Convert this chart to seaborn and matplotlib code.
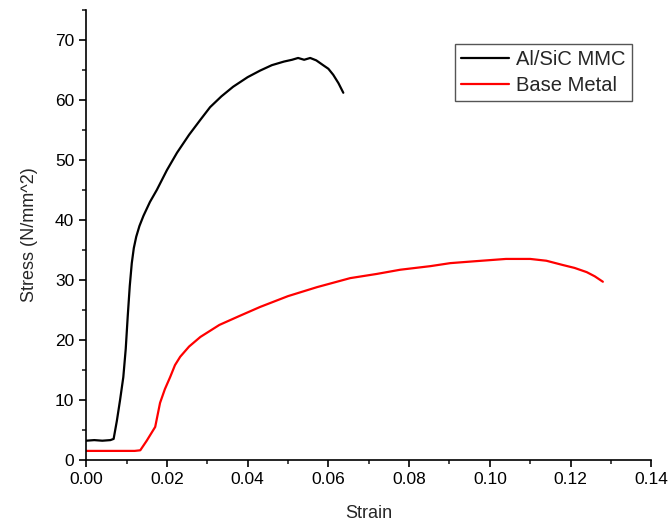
import matplotlib
matplotlib.use("Agg")
import matplotlib.pyplot as plt
import seaborn as sns
import pandas as pd
from matplotlib.ticker import MultipleLocator

# Al/SiC MMC curve
mmc_strain = [0.0, 0.002, 0.004, 0.0060, 0.0068, 0.0076, 0.0084, 0.0092, 0.0098, 0.0103,
              0.0108, 0.0113, 0.0118, 0.0124, 0.0132, 0.0142, 0.0158, 0.0175, 0.0200, 0.0225, 0.0255,
              0.0283, 0.0307, 0.0335, 0.0364, 0.0400, 0.0431, 0.0460, 0.0490, 0.0510,
              0.0525, 0.0540, 0.0555, 0.0570, 0.0587, 0.0600, 0.0612, 0.0625, 0.0637]
mmc_stress = [3.2, 3.3, 3.2, 3.3, 3.5, 6.5, 10.0, 13.8, 18.5, 24.0,
              29.0, 32.8, 35.3, 37.2, 39.0, 40.7, 43.0, 45.0, 48.3, 51.2, 54.2,
              56.7, 58.8, 60.6, 62.2, 63.8, 64.9, 65.8, 66.4, 66.7,
              67.0, 66.7, 67.0, 66.6, 65.8, 65.2, 64.2, 62.8, 61.2]

# Base Metal curve
base_strain = [0.0, 0.004, 0.008, 0.0120, 0.0134, 0.0150, 0.0171, 0.0183, 0.0195, 0.0208,
               0.0220, 0.0233, 0.0255, 0.0283, 0.0330, 0.0380, 0.0431, 0.0500, 0.0572,
               0.0654, 0.0720, 0.0778, 0.0853, 0.0902, 0.0960, 0.1000, 0.1040, 0.1100,
               0.1140, 0.1180, 0.1210, 0.1240, 0.1260, 0.1280]
base_stress = [1.5, 1.5, 1.5, 1.5, 1.6, 3.2, 5.5, 9.5, 11.8, 13.8,
               15.8, 17.2, 18.9, 20.5, 22.5, 24.0, 25.5, 27.3, 28.8,
               30.3, 31.0, 31.7, 32.3, 32.8, 33.1, 33.3, 33.5, 33.5,
               33.2, 32.5, 32.0, 31.3, 30.6, 29.7]

df = pd.concat([
    pd.DataFrame({"Strain": mmc_strain, "Stress": mmc_stress, "Material": "Al/SiC MMC"}),
    pd.DataFrame({"Strain": base_strain, "Stress": base_stress, "Material": "Base Metal"}),
])

sns.set_style("ticks")
plt.rcParams['font.family'] = ['Liberation Sans', 'DejaVu Sans']

fig = plt.figure(figsize=(6.68, 5.25), dpi=100)
ax = fig.add_axes([0.129, 0.124, 0.846, 0.857])

sns.lineplot(data=df, x="Strain", y="Stress", hue="Material", sort=False,
             palette={"Al/SiC MMC": "black", "Base Metal": "red"},
             linewidth=1.6, ax=ax, estimator=None)

ax.set_xlim(0, 0.14)
ax.set_ylim(0, 75)
ax.xaxis.set_major_locator(MultipleLocator(0.02))
ax.xaxis.set_minor_locator(MultipleLocator(0.01))
ax.yaxis.set_major_locator(MultipleLocator(10))
ax.yaxis.set_minor_locator(MultipleLocator(5))
ax.set_xticks(ax.get_xticks())
ax.set_xticklabels([f"{v:.2f}" for v in ax.get_xticks()])
ax.set_xlim(0, 0.14)
ax.tick_params(which="major", direction="out", length=5, width=1.2, labelsize=12.5, colors="black")
ax.tick_params(which="minor", direction="out", length=3, width=1.2)
for s in ["left", "bottom"]:
    ax.spines[s].set_linewidth(1.2)
    ax.spines[s].set_color("black")
sns.despine(ax=ax)

ax.set_xlabel("Strain", fontsize=13, labelpad=13)
ax.set_ylabel("Stress (N/mm^2)", fontsize=13, labelpad=12)

leg = ax.legend(loc="upper right", bbox_to_anchor=(0.965, 0.925), borderaxespad=0,
                fontsize=14.5, frameon=True, fancybox=False, edgecolor="#555555",
                framealpha=1, handlelength=2.4, borderpad=0.3, labelspacing=0.35,
                handletextpad=0.35)
leg.get_frame().set_linewidth(1.0)

fig.savefig("out.png", dpi=100)
